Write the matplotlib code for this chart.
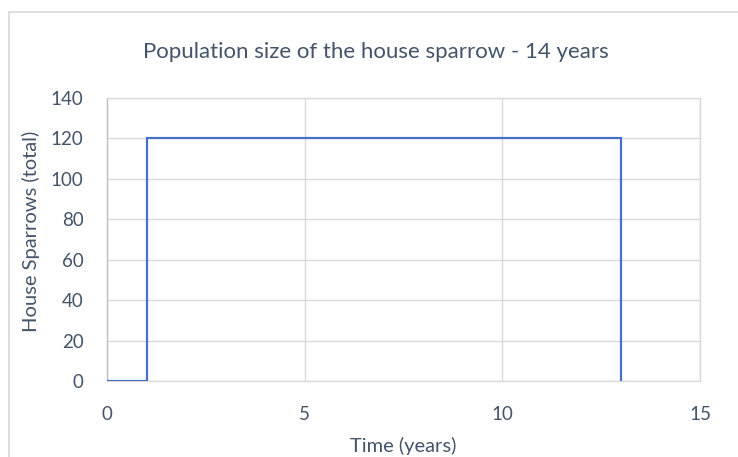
import matplotlib
matplotlib.use("Agg")
import matplotlib.pyplot as plt
from matplotlib.patches import Rectangle

# Step-shaped population series (years, number of sparrows)
years = [0, 1, 1, 13, 13]
sparrows = [0, 0, 120, 120, 0]

x_ticks = [0, 5, 10, 15]
y_ticks = [0, 20, 40, 60, 80, 100, 120, 140]

title = "Population size of the house sparrow - 14 years"
x_label = "Time (years)"
y_label = "House Sparrows (total)"

text_color = "#44546a"
grid_color = "#d9d9d9"
line_color = "#4472c4"

plt.rcParams["font.family"] = ["Lato", "DejaVu Sans"]

fig = plt.figure(figsize=(7.38, 4.57), dpi=100)
W, H = 738, 457

# chart frame
fig.patches.append(Rectangle((9 / W, -0.1), 1.2, 1 - 12 / H + 0.1,
                             transform=fig.transFigure, fill=False,
                             edgecolor=grid_color, linewidth=1.2))

ax_left, ax_right, ax_top, ax_bottom = 107, 700, 98, 381
ax_h = ax_bottom - ax_top
ax = fig.add_axes([ax_left / W, 1 - ax_bottom / H,
                   (ax_right - ax_left) / W, ax_h / H])
ax.plot(years, sparrows, color=line_color, linewidth=1.6, zorder=3,
        solid_joinstyle="miter")

ax.set_xlim(0, 15)
ax.set_ylim(0, 140)
ax.set_xticks(x_ticks)
ax.set_yticks(y_ticks)
ax.grid(True, color=grid_color, linewidth=1.0)
ax.set_axisbelow(True)

for side in ("top", "right", "bottom"):
    ax.spines[side].set_color(grid_color)
    ax.spines[side].set_linewidth(1.0)
ax.spines["left"].set_color("#bfbfbf")
ax.spines["left"].set_linewidth(1.0)

ax.tick_params(length=0, labelsize=13.5, colors=text_color)
ax.tick_params(axis="y", pad=17)
ax.tick_params(axis="x", pad=18)

ax.set_xlabel(x_label, fontsize=14.5, color=text_color, va="center")
ax.set_ylabel(y_label, fontsize=14.5, color=text_color, va="center")
ax.xaxis.set_label_coords(0.5, (ax_bottom - 446) / ax_h)
ax.yaxis.set_label_coords((31 - ax_left) / (ax_right - ax_left), 0.5 + 8.5 / ax_h)

fig.text(376 / W, 1 - 52 / H, title, ha="center", va="center",
         fontsize=16, color=text_color)

fig.savefig("out.png", dpi=100)
